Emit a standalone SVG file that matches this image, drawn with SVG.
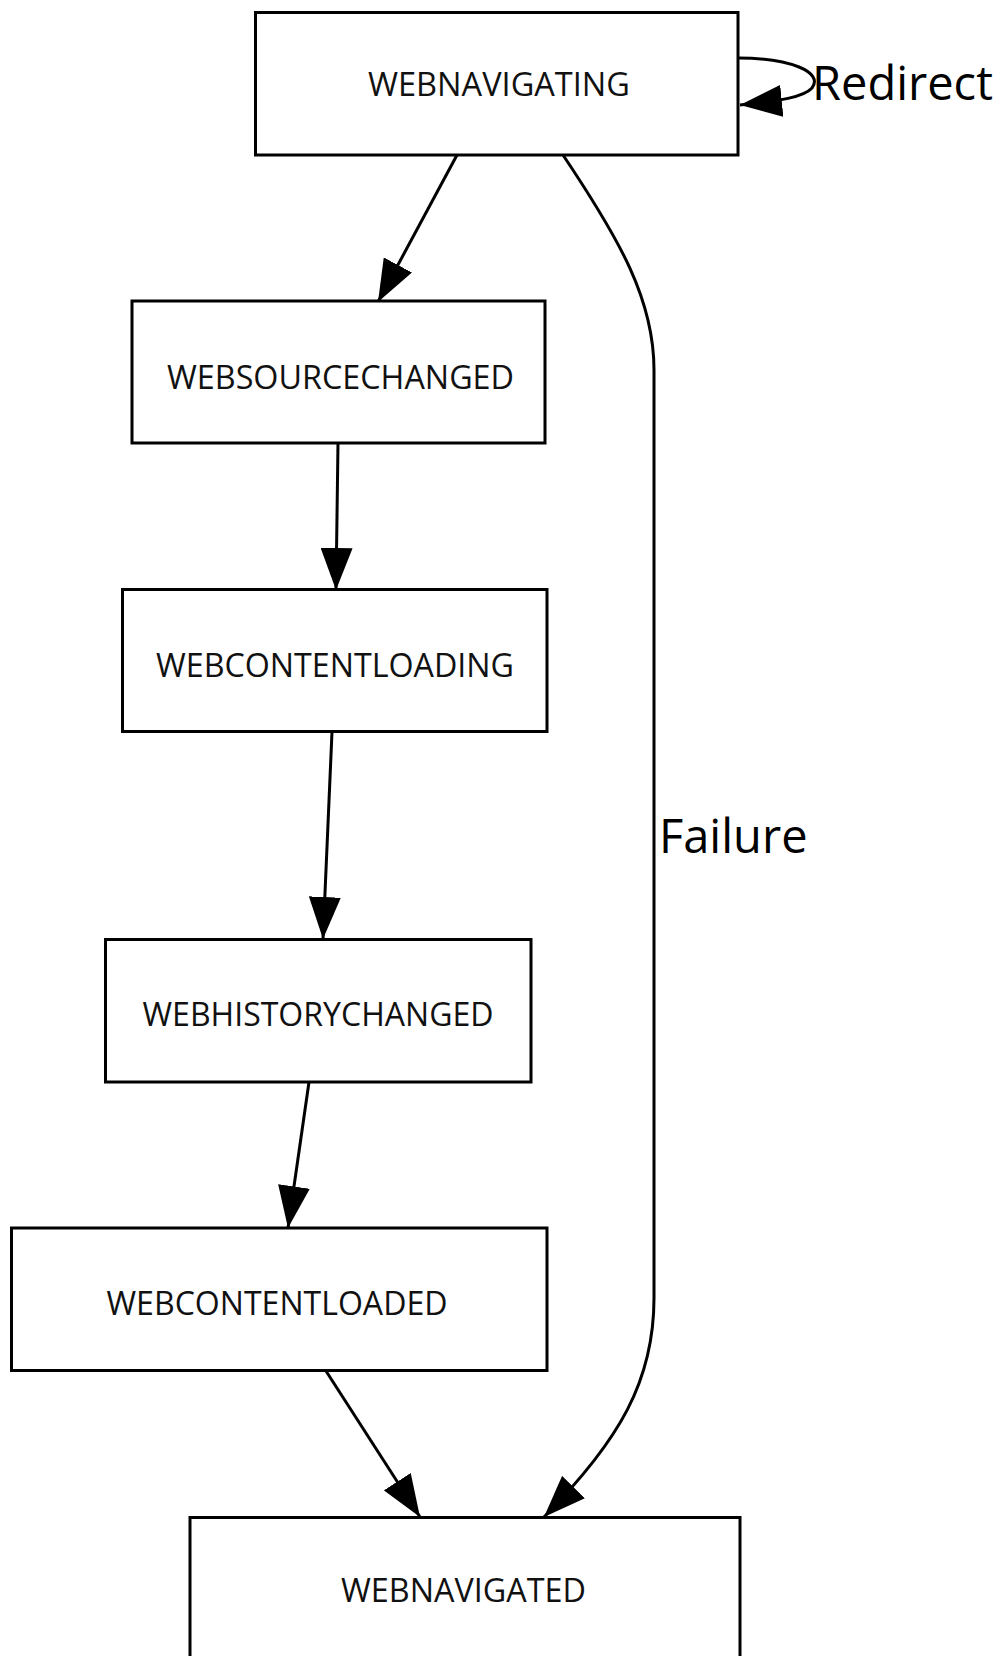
<svg xmlns="http://www.w3.org/2000/svg" width="1005" height="1656" viewBox="0 0 1005 1656">
<defs>
<style>
.node rect{fill:#fff;stroke:#000;stroke-width:3}
.node text{font-family:"Open Sans","DejaVu Sans",sans-serif;font-size:33px;fill:#111;text-anchor:middle}
.edge{fill:none;stroke:#000;stroke-width:3}
.lbl{font-family:"Open Sans","DejaVu Sans",sans-serif;font-size:47px;fill:#000}
</style>
<marker id="arr" viewBox="0 0 42 32" refX="42" refY="16" markerWidth="42" markerHeight="32" markerUnits="userSpaceOnUse" orient="auto">
<path d="M0,0 L42,16 L0,32 z" fill="#000"/>
</marker>
</defs>
<rect width="1005" height="1656" fill="#fff"/>
<g id="connectors">
<path class="edge" d="M457,155 L378,302" marker-end="url(#arr)"/>
<path class="edge" d="M338,443 L336,590" marker-end="url(#arr)"/>
<path class="edge" d="M332,732 L323,939" marker-end="url(#arr)"/>
<path class="edge" d="M309,1082 L288,1228" marker-end="url(#arr)"/>
<path class="edge" d="M326,1371 L420,1517" marker-end="url(#arr)"/>
<path class="edge" d="M563,155 C620,240 654,300 654,370 L654,1298 C654,1380 620,1440 544,1517" marker-end="url(#arr)"/>
<path class="edge" d="M738,58 C790,58 824,72 812,88 C804,97 780,101 740,105" marker-end="url(#arr)"/>
<text class="lbl" x="812" y="100">Redirect</text>
<text class="lbl" x="659" y="853">Failure</text>
</g>
<g id="WEBNAVIGATING" class="node"><rect x="255.5" y="12.5" width="482.5" height="142.5"/><text x="499" y="96" textLength="262" lengthAdjust="spacingAndGlyphs">WEBNAVIGATING</text></g>
<g id="WEBSOURCECHANGED" class="node"><rect x="132" y="301" width="413" height="142"/><text x="340.5" y="389" textLength="347" lengthAdjust="spacingAndGlyphs">WEBSOURCECHANGED</text></g>
<g id="WEBCONTENTLOADING" class="node"><rect x="122.5" y="589.5" width="424.5" height="142"/><text x="335" y="677" textLength="358" lengthAdjust="spacingAndGlyphs">WEBCONTENTLOADING</text></g>
<g id="WEBHISTORYCHANGED" class="node"><rect x="105.5" y="939.5" width="425.5" height="142.5"/><text x="318" y="1026" textLength="351" lengthAdjust="spacingAndGlyphs">WEBHISTORYCHANGED</text></g>
<g id="WEBCONTENTLOADED" class="node"><rect x="11.5" y="1228" width="535.5" height="142.5"/><text x="277" y="1315" textLength="341" lengthAdjust="spacingAndGlyphs">WEBCONTENTLOADED</text></g>
<g id="WEBNAVIGATED" class="node"><rect x="190" y="1517.5" width="550" height="142"/><text x="463.5" y="1602" textLength="245" lengthAdjust="spacingAndGlyphs">WEBNAVIGATED</text></g>
</svg>
